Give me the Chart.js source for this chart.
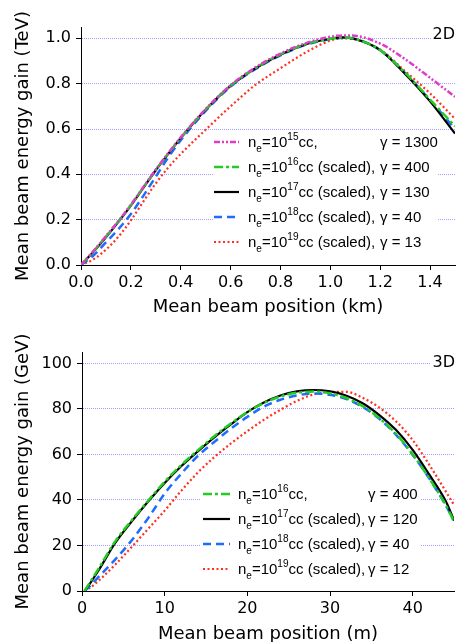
<!DOCTYPE html>
<html>
<head>
<meta charset="utf-8">
<script src="https://cdn.jsdelivr.net/npm/chart.js@4.4.0/dist/chart.umd.min.js"></script>
<style>
  html, body { margin: 0; padding: 0; background: #fff; overflow: hidden; }
  #c2d { position: absolute; left: 0; top: 0; }
  #c3d { position: absolute; left: 0; top: 320px; }
</style>
</head>
<body>
<canvas id="c2d" width="457" height="320" style="width:457px;height:320px"></canvas>
<canvas id="c3d" width="457" height="330" style="width:457px;height:330px"></canvas>
<script>
// ---- 2D panel (TeV vs km) ----
const pos2D = [0, 0.05, 0.1, 0.15, 0.2, 0.25, 0.3, 0.35, 0.4, 0.5, 0.6, 0.7, 0.8, 0.9, 1.0, 1.05, 1.1, 1.2, 1.3, 1.4, 1.5];
const gain2D_n15 = [0, 0.062, 0.127, 0.194, 0.266, 0.344, 0.421, 0.494, 0.563, 0.688, 0.793, 0.872, 0.933, 0.978, 1.007, 1.013, 1.011, 0.977, 0.908, 0.826, 0.742];
const gain2D_n16 = [0, 0.06, 0.125, 0.192, 0.264, 0.342, 0.419, 0.492, 0.561, 0.686, 0.791, 0.869, 0.929, 0.974, 0.998, 1.004, 0.997, 0.948, 0.848, 0.73, 0.612];
const gain2D_n17 = [0, 0.058, 0.122, 0.19, 0.262, 0.34, 0.418, 0.49, 0.56, 0.685, 0.79, 0.868, 0.928, 0.973, 0.998, 1.004, 0.997, 0.948, 0.843, 0.722, 0.58];
const gain2D_n18 = [0, 0.042, 0.1, 0.158, 0.225, 0.305, 0.39, 0.475, 0.55, 0.68, 0.787, 0.865, 0.925, 0.971, 0.997, 1.003, 0.997, 0.948, 0.846, 0.727, 0.6];
const gain2D_n19 = [0, 0.025, 0.068, 0.125, 0.197, 0.28, 0.36, 0.43, 0.49, 0.597, 0.70, 0.795, 0.868, 0.937, 0.99, 1.0, 0.995, 0.95, 0.855, 0.757, 0.645];
const exp2D = ["15", "16", "17", "18", "19"];
const scaled2D = [false, true, true, true, true];
const gamma2D = [1300, 400, 130, 40, 13];
const xTicks2D = [0, 0.2, 0.4, 0.6, 0.8, 1.0, 1.2, 1.4];
const yTicks2D = [0, 0.2, 0.4, 0.6, 0.8, 1.0];

// ---- 3D panel (GeV vs m) ----
const pos3D = [0.3, 1, 2, 4, 6, 8, 10, 12, 14, 16, 18, 20, 22, 24, 26, 28, 30, 32, 34, 36, 38, 40, 42, 44, 45];
const gain3D_n16 = [0, 4, 9.8, 21.7, 31, 39.7, 48, 55.3, 61.8, 68, 73.6, 78.6, 82.6, 85.5, 87.1, 87.6, 86.9, 84.7, 81.1, 75.8, 69, 60, 49.5, 37.8, 30.5];
const gain3D_n17 = [0, 3.5, 9, 21, 30.5, 39.3, 47.5, 54.8, 61.3, 67.5, 73.2, 78.6, 82.8, 85.9, 87.7, 88.3, 87.7, 85.8, 82.4, 77.2, 70.7, 62, 51.2, 39.5, 31];
const gain3D_n18 = [0, 2.3, 6.2, 13.8, 22.2, 32, 42.8, 51.5, 59.3, 65.5, 71.3, 76.5, 81, 84, 85.9, 86.8, 86.2, 84.3, 80.8, 75.6, 68.6, 59.8, 49.5, 37.6, 31];
const gain3D_n19 = [0, 1.5, 4.5, 11.5, 19.3, 27.3, 35.3, 44, 52, 58.8, 64.8, 70.2, 75.2, 79.6, 83.5, 86.3, 87.5, 87.5, 84.8, 80.5, 74.5, 66.3, 55.5, 43.8, 37.8];
const exp3D = ["16", "17", "18", "19"];
const scaled3D = [false, true, true, true];
const gamma3D = [400, 120, 40, 12];
const xTicks3D = [0, 10, 20, 30, 40];
const yTicks3D = [0, 20, 40, 60, 80, 100];

// line styles per density
const STYLE = {
  "15": { color: "#e03cc8", width: 2.5, dash: [6, 2, 2, 2, 2, 2] },
  "16": { color: "#22cc22", width: 2.5, dash: [9, 3, 3, 3] },
  "17": { color: "#000000", width: 2.2, dash: [] },
  "18": { color: "#1f6cff", width: 2.5, dash: [8, 5] },
  "19": { color: "#ff3020", width: 2.2, dash: [2, 2.5] },
};

function series(xs, ys) {
  return xs.map((x, i) => ({ x: x, y: ys[i] }));
}

function makeDatasets(xs, ysList, exps) {
  return ysList.map((ys, i) => {
    const s = STYLE[exps[i]];
    return {
      data: series(xs, ys),
      borderColor: s.color,
      borderWidth: s.width,
      borderDash: s.dash,
      borderCapStyle: "butt",
      pointRadius: 0,
      fill: false,
      cubicInterpolationMode: "monotone",
    };
  });
}

// legend drawn in a white box inside the plot, plus the 2D/3D tag
const boxLegend = {
  id: "boxLegend",
  beforeDatasetsDraw(chart, args, o) {
    const ctx = chart.ctx;
    ctx.save();
    ctx.fillStyle = "#fff";
    ctx.fillRect(o.box[0], o.box[1], o.box[2], o.box[3]);
    ctx.fillRect(o.tagX - 24, o.tagY - 13, 26, 16);
    ctx.fillStyle = "#000";
    ctx.textBaseline = "alphabetic";
    ctx.textAlign = "right";
    ctx.font = '16px "DejaVu Sans"';
    ctx.fillText(o.tag, o.tagX, o.tagY);
    ctx.textAlign = "left";
    chart.data.datasets.forEach((ds, i) => {
      const y = o.y0 + i * o.dy;
      ctx.strokeStyle = ds.borderColor;
      ctx.lineWidth = ds.borderWidth;
      ctx.lineCap = "butt";
      ctx.setLineDash(ds.borderDash);
      ctx.beginPath();
      ctx.moveTo(o.lineX[0], y);
      ctx.lineTo(o.lineX[1], y);
      ctx.stroke();
      ctx.setLineDash([]);
      const base = y + 4.5;
      let x = o.textX;
      const put = (t, size, dy) => {
        ctx.font = size + 'px "Liberation Sans"';
        ctx.fillText(t, x, base + dy);
        x += ctx.measureText(t).width;
      };
      put("n", 15, 0);
      put("e", 10, 5.5);
      put("=10", 15, 0);
      put(o.exps[i], 10, -6.5);
      put(o.scaled[i] ? "cc (scaled)," : "cc,", 15, 0);
      ctx.font = '15px "Liberation Sans"';
      ctx.fillText("\u03b3 = " + o.gammas[i], o.gammaX, base);
    });
    ctx.restore();
  },
};

function axisFont(size) {
  return { family: "DejaVu Sans", size: size, lineHeight: 1.2 };
}

function makeChart(id, cfg) {
  return new Chart(document.getElementById(id), {
    type: "line",
    data: { datasets: cfg.datasets },
    plugins: [boxLegend],
    options: {
      responsive: false,
      animation: false,
      events: [],
      layout: { padding: cfg.padding },
      plugins: {
        legend: { display: false },
        tooltip: { enabled: false },
        boxLegend: cfg.legend,
      },
      scales: {
        x: {
          type: "linear",
          min: cfg.xMin,
          max: cfg.xMax,
          afterBuildTicks: (s) => { s.ticks = cfg.xTicks.map((v) => ({ value: v })); },
          afterFit: (s) => { s.height = cfg.xHeight; },
          ticks: {
            autoSkip: false,
            maxRotation: 0,
            padding: 3,
            color: "#000",
            font: axisFont(16),
            callback: cfg.xFmt,
          },
          grid: { drawOnChartArea: false, tickLength: 5, color: "#000", tickColor: "#000" },
          border: { color: "#000", width: 1 },
          title: {
            display: true,
            text: cfg.xTitle,
            color: "#000",
            font: axisFont(18),
            padding: { top: 0, bottom: cfg.xTitlePad },
          },
        },
        y: {
          type: "linear",
          min: cfg.yMin,
          max: cfg.yMax,
          afterBuildTicks: (s) => { s.ticks = cfg.yTicks.map((v) => ({ value: v })); },
          afterFit: (s) => { s.width = cfg.yWidth; },
          ticks: {
            padding: 5,
            color: "#000",
            font: axisFont(16),
            callback: cfg.yFmt,
          },
          grid: {
            color: (c) => (c.tick && c.tick.value === 0 ? "rgba(0,0,0,0)" : "#a0a0ff"),
            lineWidth: 1,
            tickLength: 5,
            tickColor: "#000",
          },
          border: { color: "#000", width: 1, dash: [1, 1] },
          title: {
            display: true,
            text: cfg.yTitle,
            color: "#000",
            font: axisFont(18),
            padding: { top: 13, bottom: 0 },
          },
        },
      },
    },
  });
}

makeChart("c2d", {
  datasets: makeDatasets(pos2D, [gain2D_n15, gain2D_n16, gain2D_n17, gain2D_n18, gain2D_n19], exp2D),
  padding: { top: 27, right: 2, left: 0, bottom: 0 },
  xMin: 0, xMax: 1.5, xTicks: xTicks2D, xHeight: 55, xTitlePad: 2,
  yMin: 0, yMax: 1.05, yTicks: yTicks2D, yWidth: 81,
  xFmt: (v) => Number(v).toFixed(1),
  yFmt: (v) => Number(v).toFixed(1),
  xTitle: "Mean beam position (km)",
  yTitle: "Mean beam energy gain (TeV)",
  legend: {
    box: [213, 131, 225, 124],
    lineX: [214, 239], textX: 248, gammaX: 380, y0: 142, dy: 25,
    exps: exp2D, scaled: scaled2D, gammas: gamma2D,
    tag: "2D", tagX: 455, tagY: 39,
  },
});

makeChart("c3d", {
  datasets: makeDatasets(pos3D, [gain3D_n16, gain3D_n17, gain3D_n18, gain3D_n19], exp3D),
  padding: { top: 32, right: 3, left: 0, bottom: 0 },
  xMin: 0, xMax: 45, xTicks: xTicks3D, xHeight: 59, xTitlePad: 5,
  yMin: 0, yMax: 105, yTicks: yTicks3D, yWidth: 82,
  xFmt: (v) => String(v),
  yFmt: (v) => String(v),
  xTitle: "Mean beam position (m)",
  yTitle: "Mean beam energy gain (GeV)",
  legend: {
    box: [200, 161, 220, 100],
    lineX: [203, 230], textX: 238, gammaX: 368, y0: 174, dy: 25,
    exps: exp3D, scaled: scaled3D, gammas: gamma3D,
    tag: "3D", tagX: 455, tagY: 47,
  },
});
</script>
</body>
</html>
